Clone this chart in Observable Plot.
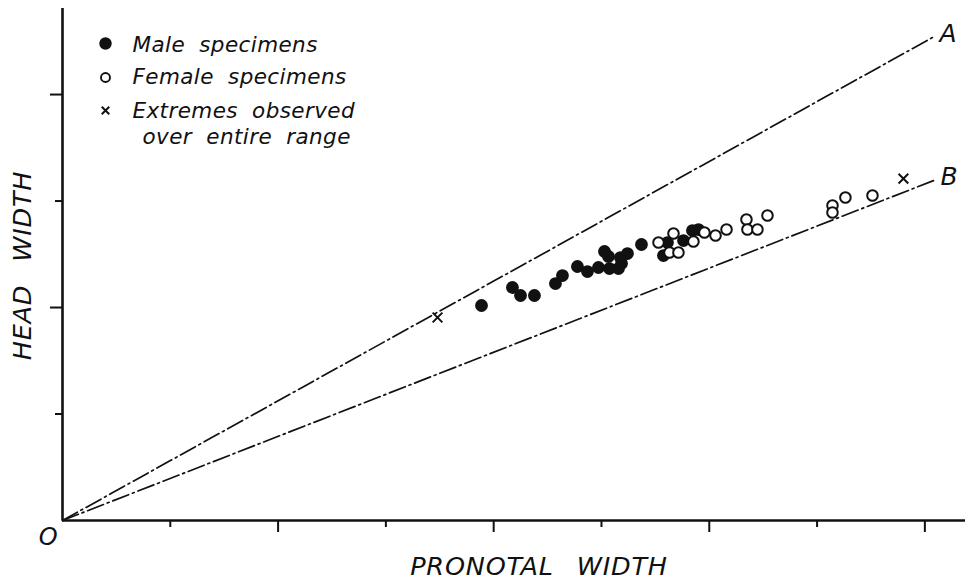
<!DOCTYPE html>
<html>
<head>
<meta charset="utf-8">
<script src="https://cdn.jsdelivr.net/npm/d3@7"></script>
<script src="https://cdn.jsdelivr.net/npm/@observablehq/plot@0.6"></script>
<style>
  html, body { margin: 0; padding: 0; background: #ffffff; }
  #chart svg text { word-spacing: 7px; letter-spacing: 0.4px; }
  #chart svg .axis-title text { word-spacing: 14px; letter-spacing: 0.8px; }
</style>
</head>
<body>
<div id="chart"></div>
<script>
// ---- data (in tick units) ----
const maleX = [3.887, 4.174, 4.249, 4.378, 4.573, 4.638, 4.777, 4.870, 4.972, 5.028, 5.065, 5.074, 5.158, 5.176, 5.241, 5.186, 5.371, 5.575, 5.612, 5.761, 5.844, 5.900];
const maleY = [2.019, 2.188, 2.113, 2.113, 2.225, 2.300, 2.385, 2.338, 2.376, 2.526, 2.479, 2.366, 2.366, 2.469, 2.507, 2.413, 2.592, 2.488, 2.610, 2.629, 2.723, 2.732];

const femaleX = [5.529, 5.668, 5.631, 5.714, 5.853, 5.955, 6.058, 6.160, 6.345, 6.354, 6.447, 6.540, 7.143, 7.143, 7.263, 7.514];
const femaleY = [2.610, 2.695, 2.516, 2.516, 2.620, 2.704, 2.676, 2.732, 2.826, 2.732, 2.732, 2.864, 2.958, 2.892, 3.033, 3.052];

const extremeX = [3.479, 7.801];
const extremeY = [1.906, 3.211];

const lineNames = ["A", "B"];
const lineSlopes = [0.562, 0.395];
const lineEndX = [8.07, 8.08];

const xTicksMajor = [2, 4, 6, 8];
const xTicksMinor = [1, 3, 5, 7];
const yTicksMajor = [2, 4];
const yTicksMinor = [1, 3];

const legendLabels = ["Male specimens", "Female specimens", "Extremes observed", "over entire range"];
const xLabel = "PRONOTAL WIDTH";
const yLabel = "HEAD WIDTH";
const originLabel = "O";

// ---- derived tables ----
const males = maleX.map((x, i) => ({x, y: maleY[i]}));
const females = femaleX.map((x, i) => ({x, y: femaleY[i]}));
const extremes = extremeX.map((x, i) => ({x, y: extremeY[i]}));
const refLines = lineNames.flatMap((name, i) => [
  {name, x: 0, y: 0},
  {name, x: lineEndX[i], y: lineSlopes[i] * lineEndX[i]}
]);
const lineLabels = lineNames.map((name, i) => ({name, x: lineEndX[i], y: lineSlopes[i] * lineEndX[i]}));

const font = "'DejaVu Sans', sans-serif";
const blank = () => "";

const chart = Plot.plot({
  width: 970,
  height: 582,
  marginLeft: 62,
  marginRight: 5,
  marginTop: 8,
  marginBottom: 62,
  style: {background: "#ffffff", color: "#111", fontFamily: font},
  x: {domain: [0, 8.377]},
  y: {domain: [0, 4.808]},
  marks: [
    // reference lines through origin
    Plot.line(refLines, {x: "x", y: "y", z: "name", stroke: "#111", strokeWidth: 1.7, strokeDasharray: "17,4,2,4"}),
    Plot.text(lineLabels, {x: "x", y: "y", text: "name", textAnchor: "start", dx: 7, dy: -4, fontSize: 25, fontStyle: "italic", fill: "#111"}),
    // axes
    Plot.axisX(xTicksMajor, {tickSize: 12, tickFormat: blank, strokeWidth: 2, label: null}),
    Plot.axisX(xTicksMinor, {tickSize: 7, tickFormat: blank, strokeWidth: 2, label: null}),
    Plot.axisY(yTicksMajor, {tickSize: 12, tickFormat: blank, strokeWidth: 2, label: null}),
    Plot.axisY(yTicksMinor, {tickSize: 7, tickFormat: blank, strokeWidth: 2, label: null}),
    Plot.ruleY([0], {stroke: "#111", strokeWidth: 2.6}),
    Plot.ruleX([0], {stroke: "#111", strokeWidth: 2.6}),
    // data
    Plot.dot(males, {x: "x", y: "y", r: 6.4, fill: "#111", stroke: "none"}),
    Plot.dot(females, {x: "x", y: "y", r: 5.3, fill: "#ffffff", stroke: "#111", strokeWidth: 2}),
    Plot.dot(extremes, {x: "x", y: "y", r: 4.5, symbol: "times", stroke: "#111", strokeWidth: 2}),
    // axis titles
    Plot.text([xLabel], {frameAnchor: "bottom", textAnchor: "middle", dx: 25, dy: 54, fontSize: 25.5, fontStyle: "italic", fill: "#111", className: "axis-title"}),
    Plot.text([yLabel], {frameAnchor: "left", textAnchor: "middle", dx: -40, dy: 1, rotate: -90, fontSize: 25.5, fontStyle: "italic", fill: "#111", className: "axis-title"}),
    Plot.text([originLabel], {frameAnchor: "bottom-left", textAnchor: "middle", dx: -14, dy: 24, fontSize: 24, fontStyle: "italic", fill: "#111"}),
    // legend
    Plot.dot([0], {frameAnchor: "top-left", dx: 43, dy: 35, r: 6.2, fill: "#111"}),
    Plot.dot([0], {frameAnchor: "top-left", dx: 43, dy: 69, r: 4.5, fill: "#fff", stroke: "#111", strokeWidth: 1.9}),
    Plot.dot([0], {frameAnchor: "top-left", dx: 43, dy: 102, r: 3.5, symbol: "times", stroke: "#111", strokeWidth: 2}),
    Plot.text([legendLabels[0]], {frameAnchor: "top-left", dx: 70, dy: 43, lineAnchor: "bottom", textAnchor: "start", fontSize: 21.5, fontStyle: "italic", fill: "#111"}),
    Plot.text([legendLabels[1]], {frameAnchor: "top-left", dx: 70, dy: 75, lineAnchor: "bottom", textAnchor: "start", fontSize: 21.5, fontStyle: "italic", fill: "#111"}),
    Plot.text([legendLabels[2]], {frameAnchor: "top-left", dx: 70, dy: 109, lineAnchor: "bottom", textAnchor: "start", fontSize: 21.5, fontStyle: "italic", fill: "#111"}),
    Plot.text([legendLabels[3]], {frameAnchor: "top-left", dx: 80, dy: 135, lineAnchor: "bottom", textAnchor: "start", fontSize: 21.5, fontStyle: "italic", fill: "#111"})
  ]
});

document.getElementById("chart").appendChild(chart);
</script>
</body>
</html>
